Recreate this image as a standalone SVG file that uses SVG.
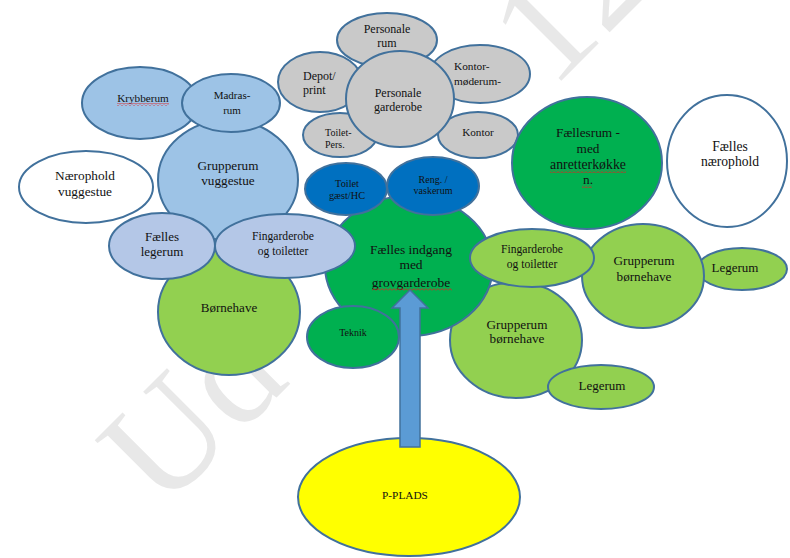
<svg xmlns="http://www.w3.org/2000/svg" width="790" height="558" viewBox="0 0 790 558">
<style>
ellipse{stroke:#41719c;stroke-width:2}
.gray{fill:#c9c9c9}
.lb{fill:#9dc3e6}
.pb{fill:#b4c7e7}
.dg{fill:#00b050}
.lg{fill:#92d050}
.db{fill:#0070c0}
.wh{fill:#ffffff}
.ye{fill:#ffff00}
text{font-family:"Liberation Serif","DejaVu Serif",serif;fill:#111;text-anchor:middle}
.s{text-anchor:start}
.wm{font-family:"Liberation Serif",serif;font-size:150px;fill:#e8e8e8;text-anchor:start}
</style>
<defs>
<pattern id="wave" width="4" height="3" patternUnits="userSpaceOnUse"><path d="M0,2.5 L2,0.5 L4,2.5" stroke="#e02020" stroke-width="0.9" fill="none"/></pattern>
</defs>
<rect width="790" height="558" fill="#ffffff"/>
<g id="watermark">
<text class="wm" transform="translate(162,512) rotate(-45)">Ud</text>
<text class="wm" transform="translate(552,90) rotate(-45)">12</text>
</g>
<g id="personale-rum"><ellipse class="gray" cx="387" cy="40" rx="50" ry="27"/><text x="387" y="33" font-size="12">Personale</text><text x="387" y="47" font-size="12">rum</text></g>
<g id="depot"><ellipse class="gray" cx="320" cy="82" rx="42" ry="30"/><text class="s" x="303" y="80" font-size="12">Depot/</text><text class="s" x="303" y="94" font-size="12">print</text></g>
<g id="kontor-moderum"><ellipse class="gray" cx="480" cy="74" rx="50" ry="29"/><text class="s" x="454" y="70" font-size="11.3">Kontor-</text><text class="s" x="454" y="85" font-size="11.3">møderum-</text></g>
<g id="toilet-pers"><ellipse class="gray" cx="340" cy="135" rx="37" ry="22"/><text class="s" x="325" y="136" font-size="10">Toilet-</text><text class="s" x="325" y="148" font-size="10">Pers.</text></g>
<g id="kontor"><ellipse class="gray" cx="478" cy="135" rx="40" ry="23"/><text x="478" y="136" font-size="11.2">Kontor</text></g>
<g id="personale-garderobe"><ellipse class="gray" cx="400" cy="99" rx="54" ry="48"/><text x="398" y="97" font-size="12">Personale</text><text x="398" y="111" font-size="12">garderobe</text></g>

<g id="fellesrum"><ellipse class="dg" cx="587" cy="163" rx="75" ry="66"/><text x="588" y="137" font-size="13.3">Fællesrum -</text><text x="588" y="153" font-size="13.3">med</text><text x="588" y="169" font-size="13.8">anretterkøkke</text><text x="588" y="184" font-size="13.3">n.</text><rect x="550" y="170" width="76" height="3" fill="url(#wave)"/><rect x="582" y="185" width="10" height="3" fill="url(#wave)"/></g>
<g id="felles-naerophold"><ellipse class="wh" cx="727" cy="161" rx="60" ry="66"/><text x="730" y="151" font-size="13.6">Fælles</text><text x="730" y="166" font-size="13.6">nærophold</text></g>

<g id="krybberum"><ellipse class="lb" cx="140" cy="103" rx="58" ry="36"/><text x="143" y="102" font-size="11.2">Krybberum</text><rect x="117" y="103" width="52" height="3" fill="url(#wave)"/></g>
<g id="grupperum-vuggestue"><ellipse class="lb" cx="228" cy="180" rx="70" ry="60"/><text x="228" y="170" font-size="13.2">Grupperum</text><text x="228" y="185" font-size="13.2">vuggestue</text></g>
<g id="madrasrum"><ellipse class="lb" cx="231" cy="103" rx="49" ry="29"/><text x="232" y="99" font-size="11">Madras-</text><text x="232" y="114" font-size="11">rum</text></g>
<g id="naerophold-vuggestue"><ellipse class="wh" cx="86" cy="187" rx="67" ry="36"/><text x="85" y="180" font-size="13.3">Nærophold</text><text x="85" y="196" font-size="13.3">vuggestue</text></g>
<g id="bornehave"><ellipse class="lg" cx="229" cy="312" rx="71" ry="63"/><text x="229" y="312" font-size="13">Børnehave</text></g>
<g id="felles-legerum"><ellipse class="pb" cx="162" cy="246" rx="53" ry="33"/><text x="162" y="241" font-size="13">Fælles</text><text x="162" y="256" font-size="13">legerum</text></g>

<g id="grupperum-bornehave-2"><ellipse class="lg" cx="516" cy="340" rx="66" ry="58"/><text x="517" y="329" font-size="13.2">Grupperum</text><text x="517" y="343" font-size="13.2">børnehave</text></g>
<g id="legerum-2"><ellipse class="lg" cx="601" cy="387" rx="53" ry="22"/><text x="602" y="390" font-size="13">Legerum</text></g>
<g id="legerum-1"><ellipse class="lg" cx="742" cy="269" rx="45" ry="21"/><text x="735" y="272" font-size="13">Legerum</text></g>
<g id="grupperum-bornehave-1"><ellipse class="lg" cx="643" cy="276" rx="61" ry="52"/><text x="644" y="265" font-size="13.2">Grupperum</text><text x="644" y="281" font-size="13.2">børnehave</text></g>

<g id="felles-indgang"><ellipse class="dg" cx="409" cy="266" rx="84" ry="70"/><text x="411" y="254" font-size="13.5">Fælles indgang</text><text x="411" y="269" font-size="13.5">med</text><text x="411" y="287" font-size="13.5">grovgarderobe</text><rect x="372" y="288" width="80" height="3" fill="url(#wave)"/></g>
<g id="fingarderobe-venstre"><ellipse class="pb" cx="285" cy="246" rx="70" ry="32"/><text x="283" y="240" font-size="11.6">Fingarderobe</text><text x="283" y="255" font-size="11.6">og toiletter</text></g>
<g id="toilet-gaest"><ellipse class="db" cx="346" cy="189" rx="41" ry="26"/><text x="347" y="187" font-size="10.3">Toilet</text><text x="347" y="199" font-size="10.3">gæst/HC</text></g>
<g id="reng-vaskerum"><ellipse class="db" cx="433" cy="186" rx="46" ry="29"/><text x="433" y="183" font-size="10">Reng. /</text><text x="433" y="194" font-size="10">vaskerum</text></g>
<g id="teknik"><ellipse class="dg" cx="353" cy="337" rx="46" ry="31"/><text x="353" y="336" font-size="10">Teknik</text></g>
<g id="fingarderobe-hojre"><ellipse class="lg" cx="532" cy="258" rx="62" ry="29"/><text x="532" y="253" font-size="11.6">Fingarderobe</text><text x="532" y="268" font-size="11.6">og toiletter</text></g>

<g id="p-plads"><ellipse class="ye" cx="409" cy="497" rx="111" ry="59"/><text x="405" y="499" font-size="11.3">P-PLADS</text></g>

<g id="connectors">
<path d="M400,447 L400,308 L392,308 L410,290 L428,308 L420,308 L420,447 Z" fill="#5b9bd5" stroke="#41719c" stroke-width="1.5"/>
</g>
</svg>
